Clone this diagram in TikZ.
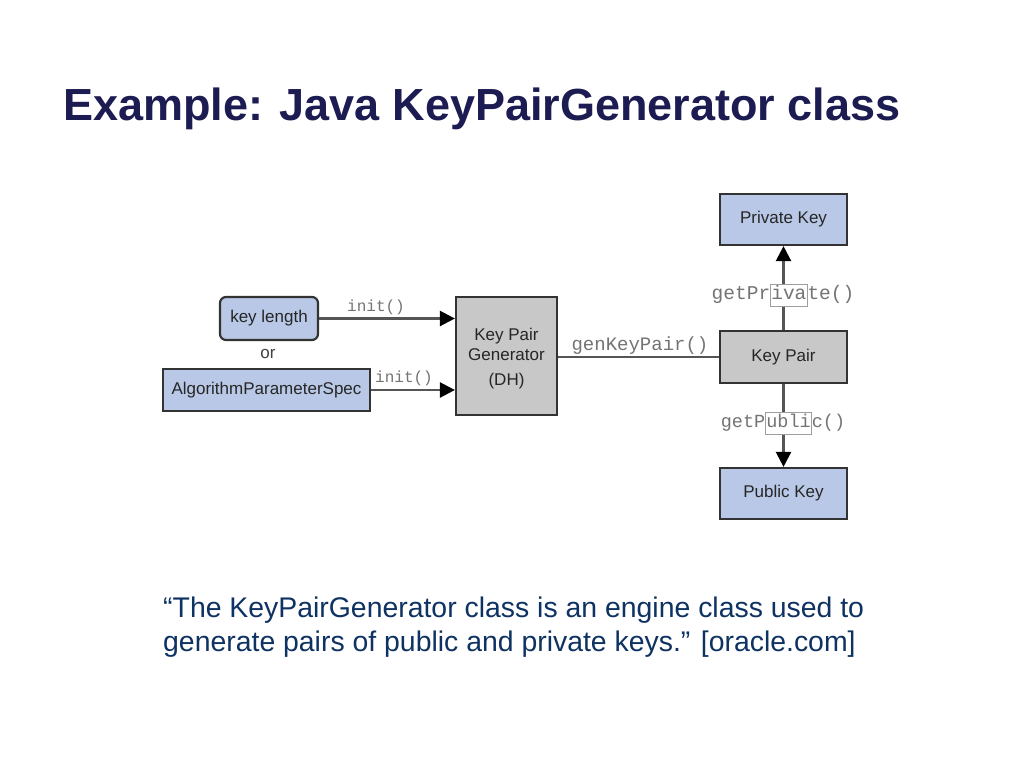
\documentclass[tikz,border=0pt]{standalone}
\usepackage{fontspec}
\setmainfont{Liberation Sans}
\newfontfamily\monof{Liberation Mono}
\usetikzlibrary{arrows.meta}
\definecolor{titlec}{HTML}{1C1C52}
\definecolor{quotec}{HTML}{0E3262}
\definecolor{boxblue}{HTML}{B8C8E6}
\definecolor{boxgray}{HTML}{C8C8C8}
\definecolor{edgec}{HTML}{333333}
\definecolor{linec}{HTML}{555555}
\definecolor{monoc}{HTML}{747474}
\newcommand{\hlbox}[1]{{\setlength{\fboxsep}{0.5pt}\setlength{\fboxrule}{0.6pt}\fcolorbox{monoc!70}{white}{\strut #1}}}
\tikzset{
  bluebox/.style={draw=edgec, line width=2.2pt, fill=boxblue, inner sep=0pt, font=\fontsize{17}{19}\selectfont, text=black!85},
  graybox/.style={draw=edgec, line width=2.2pt, fill=boxgray, inner sep=0pt, font=\fontsize{17}{20}\selectfont, text=black!85, align=center},
  conn/.style={draw=linec, line width=2.4pt},
  arr/.style={conn, -{Triangle[length=15pt,width=15pt,color=black]}},
  mlabel/.style={font=\monof\fontsize{19.5}{20}\selectfont, text=monoc, inner sep=0pt},
  slabel/.style={font=\monof\fontsize{16}{17}\selectfont, text=monoc, inner sep=0pt}
}
\begin{document}
\begin{tikzpicture}[x=1pt,y=-1pt]
\useasboundingbox (0,0) rectangle (1024,768);
\fill[white] (0,0) rectangle (1024,768);
% title
\node[anchor=base west, inner sep=0pt, text=titlec, font=\fontsize{45}{50}\selectfont\bfseries] (title) at (63,120) {Example: Java KeyPairGenerator class};
% boxes
\node[bluebox, rounded corners=6pt, minimum width=98pt, minimum height=43pt] (keylen) at (269,318.5) {key length};
\node[inner sep=0pt, font=\fontsize{17}{19}\selectfont, text=black!75] (or) at (268,354) {or};
\node[bluebox, minimum width=207pt, minimum height=42pt] (aps) at (266.5,390) {AlgorithmParameterSpec};
\node[graybox, minimum width=101pt, minimum height=118pt] (kpg) at (506.5,356) {};
\node[inner sep=0pt, align=center, font=\fontsize{17}{20}\selectfont, text=black!85] (kpgt) at (506.5,344) {Key Pair\\Generator};
\node[inner sep=0pt, font=\fontsize{17}{19}\selectfont, text=black!85] (dh) at (506.5,381) {(DH)};
\node[graybox, minimum width=127pt, minimum height=52pt] (kp) at (783.5,357) {Key Pair};
\node[bluebox, minimum width=127pt, minimum height=51pt] (priv) at (783.5,219.5) {Private Key};
\node[bluebox, minimum width=127pt, minimum height=51pt] (pub) at (783.5,493.5) {Public Key};
% connectors
\draw[arr] (keylen.east) -- (kpg.west |- keylen.east);
\draw[arr] (aps.east) -- (kpg.west |- aps.east);
\draw[conn, line width=1.6pt] (kpg.east |- kp.west) -- (kp.west);
\draw[arr] (kp.north) -- (priv.south);
\draw[arr] (kp.south) -- (pub.north);
% labels
\node[slabel] (l1) at (376,307) {init()};
\node[slabel] (l2) at (404,378) {init()};
\node[mlabel, font=\monof\fontsize{19}{20}\selectfont] (l3) at (640,346) {genKeyPair()};
\node[mlabel] (l4) at (783,295) {getPr\hlbox{iva}te()};
\node[mlabel, font=\monof\fontsize{18.5}{20}\selectfont] (l5) at (783,423) {getP\hlbox{ubli}c()};
% quote
\node[anchor=base west, inner sep=0pt, text=quotec, font=\fontsize{28.4}{34}\selectfont] (q1) at (163,617) {“The KeyPairGenerator class is an engine class used to};
\node[anchor=base west, inner sep=0pt, text=quotec, font=\fontsize{28.4}{34}\selectfont] (q2) at (163,651) {generate pairs of public and private keys.” [oracle.com]};
\end{tikzpicture}
\end{document}
